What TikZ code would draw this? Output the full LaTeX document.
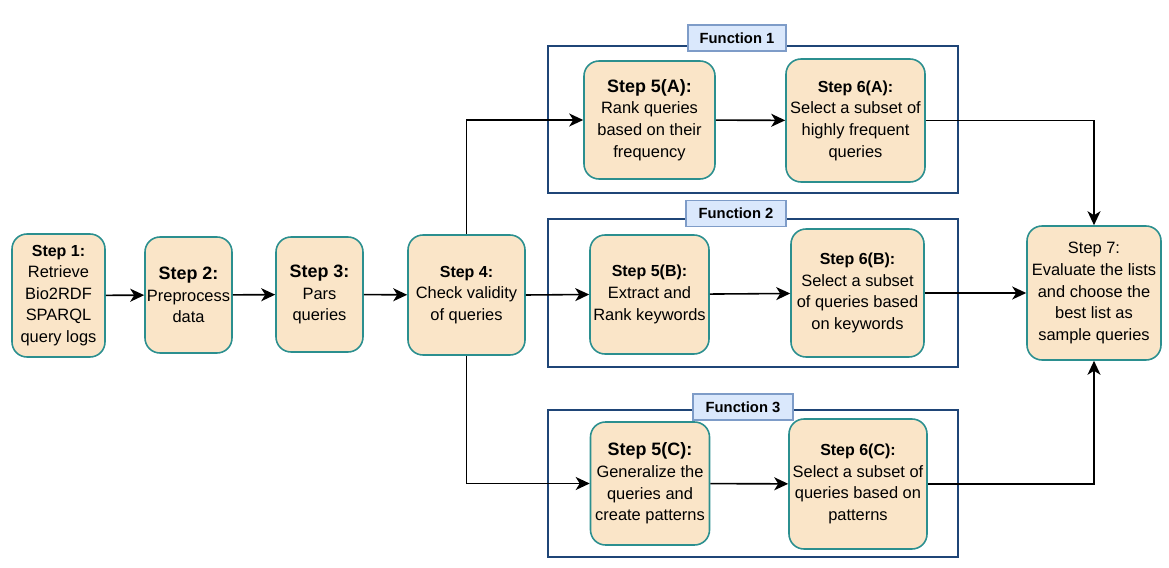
\documentclass[tikz,border=0pt]{standalone}
\usepackage{fontspec}
\setmainfont{Liberation Sans}
\usepackage{xcolor}
\usepackage{tikz}
\usetikzlibrary{arrows.meta}

\definecolor{stepfill}{HTML}{FAE5C8}
\definecolor{stepdraw}{HTML}{2B8F8F}
\definecolor{framedraw}{HTML}{1F4577}
\definecolor{tagfill}{HTML}{DAE8FC}
\definecolor{tagdraw}{HTML}{7E9CC8}

\begin{document}
\begin{tikzpicture}[
						stepbox/.style={rectangle, rounded corners=3mm, draw=stepdraw, fill=stepfill, line width=0.9pt, align=center, inner sep=0pt, font=\fontsize{9.35}{12.3}\selectfont},
						frame/.style={rectangle, draw=framedraw, line width=0.9pt, minimum width=8.2cm, inner sep=0pt},
						tag/.style={rectangle, draw=tagdraw, fill=tagfill, line width=0.9pt, minimum height=0.52cm, font=\fontsize{8.4}{10}\selectfont\bfseries},
						edge/.style={line width=0.9pt, -{Stealth[length=2.8mm,width=2.6mm,inset=0.8mm]}}
						]
						\useasboundingbox (0,0) rectangle (23.38,11.34);
						
						\node[frame, minimum height=2.94cm] (f1) at (15.06,8.95) {};
						\node[frame, minimum height=2.96cm] (f2) at (15.06,5.48) {};
						\node[frame, minimum height=2.94cm] (f3) at (15.06,1.67) {};
						\node[tag, minimum width=1.96cm] (t1) at (14.74,10.58) {Function 1};
						\node[tag, minimum width=2.0cm] (t2) at (14.72,7.07) {Function 2};
						\node[tag, minimum width=2.0cm] (t3) at (14.86,3.20) {Function 3};
						
						\node[stepbox, minimum width=1.86cm, minimum height=2.46cm] (s1) at (1.17,5.43) {{\fontsize{9.1}{12.3}\selectfont\textbf{Step 1:}}\\Retrieve\\Bio2RDF\\SPARQL\\query logs};
						\node[stepbox, minimum width=1.74cm, minimum height=2.32cm] (s2) at (3.77,5.44) {{\fontsize{10.2}{12.3}\selectfont\textbf{Step 2:}}\\Preprocess\\data};
						\node[stepbox, minimum width=1.74cm, minimum height=2.30cm] (s3) at (6.39,5.45) {{\fontsize{10.2}{12.3}\selectfont\textbf{Step 3:}}\\Pars\\queries};
						\node[stepbox, minimum width=2.34cm, minimum height=2.40cm] (s4) at (9.33,5.44) {{\fontsize{9.1}{12.3}\selectfont\textbf{Step 4:}}\\Check validity\\of queries};
						\node[stepbox, minimum width=2.62cm, minimum height=2.36cm] (s5a) at (12.99,8.94) {{\fontsize{10.2}{12.3}\selectfont\textbf{Step 5(A):}}\\Rank queries\\based on their\\frequency};
						\node[stepbox, minimum width=2.78cm, minimum height=2.46cm] (s6a) at (17.11,8.93) {{\fontsize{9.1}{12.3}\selectfont\textbf{Step 6(A):}}\\Select a subset of\\highly frequent\\queries};
						\node[stepbox, minimum width=2.38cm, minimum height=2.38cm] (s5b) at (12.99,5.45) {{\fontsize{9.1}{12.3}\selectfont\textbf{Step 5(B):}}\\Extract and\\Rank keywords};
						\node[stepbox, minimum width=2.66cm, minimum height=2.56cm] (s6b) at (17.15,5.48) {{\fontsize{9.1}{12.3}\selectfont\textbf{Step 6(B):}}\\Select a subset\\of queries based\\on keywords};
						\node[stepbox, minimum width=2.38cm, minimum height=2.46cm] (s5c) at (13.00,1.67) {{\fontsize{10.2}{12.3}\selectfont\textbf{Step 5(C):}}\\Generalize the\\queries and\\create patterns};
						\node[stepbox, minimum width=2.76cm, minimum height=2.60cm] (s6c) at (17.16,1.66) {{\fontsize{9.1}{12.3}\selectfont\textbf{Step 6(C):}}\\Select a subset of\\queries based on\\patterns};
						\node[stepbox, minimum width=2.68cm, minimum height=2.68cm] (s7) at (21.88,5.48) {Step 7:\\Evaluate the lists\\and choose the\\best list as\\sample queries};
						
						\draw[edge] (s1) -- (s2);
						\draw[edge] (s2) -- (s3);
						\draw[edge] (s3) -- (s4);
						\draw[edge] (s4.north) |- (s5a.west);
						\draw[edge] (s4.east) -- (s5b.west);
						\draw[edge] (s4.south) |- (s5c.west);
						\draw[edge] (s5a) -- (s6a);
						\draw[edge] (s5b) -- (s6b);
						\draw[edge] (s5c) -- (s6c);
						\draw[edge] (s6a.east) -| (s7.north);
						\draw[edge] (s6b.east) -- (s7.west);
						\draw[edge] (s6c.east) -| (s7.south);
					\end{tikzpicture}
\end{document}
